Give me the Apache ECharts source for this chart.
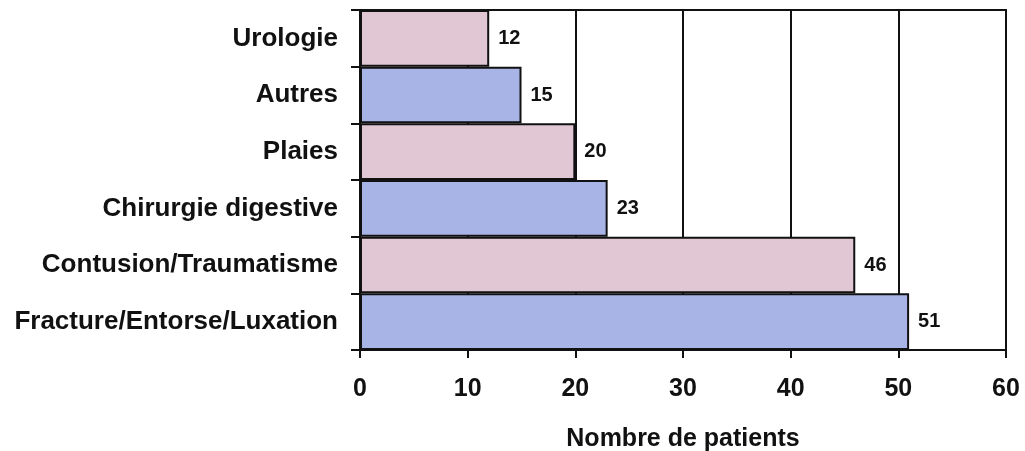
<!DOCTYPE html>
<html>
<head>
<meta charset="utf-8">
<script src="https://cdn.jsdelivr.net/npm/echarts@6/dist/echarts.min.js"></script>
<style>
  html, body { margin: 0; padding: 0; background: #fff; }
  #chart { width: 1025px; height: 451px; }
</style>
</head>
<body>
<div id="chart"></div>
<script>
// categories listed bottom -> top
const categories = ['Fracture/Entorse/Luxation', 'Contusion/Traumatisme', 'Chirurgie digestive', 'Plaies', 'Autres', 'Urologie']
const patients = [51, 46, 23, 20, 15, 12]
const barColors = ['#a9b4e6', '#e1c7d3']

const chart = echarts.init(document.getElementById('chart'))

const fontFamily = '"Liberation Sans", Arial, sans-serif'

chart.setOption({
  backgroundColor: '#fff',
  animation: false,
  grid: {
    left: 360, right: 19, top: 10, bottom: 101,
    outerBoundsMode: 'none',
    show: true, borderColor: '#111', borderWidth: 2, backgroundColor: 'transparent'
  },
  xAxis: {
    type: 'value',
    min: 0,
    max: 60,
    interval: 10,
    name: 'Nombre de patients',
    nameLocation: 'middle',
    nameGap: 77,
    nameTextStyle: { fontSize: 25, fontWeight: 'bold', color: '#111', fontFamily },
    axisLine: { show: true, lineStyle: { color: '#111', width: 2 } },
    axisTick: { show: true, length: 8, lineStyle: { color: '#111', width: 2 } },
    axisLabel: { fontSize: 25, fontWeight: 'bold', color: '#111', margin: 27, fontFamily },
    splitLine: { show: true, lineStyle: { color: '#111', width: 2 } }
  },
  yAxis: {
    type: 'category',
    data: categories,
    axisLine: { show: true, lineStyle: { color: '#111', width: 2 } },
    axisTick: { show: true, length: 9, lineStyle: { color: '#111', width: 2 } },
    axisLabel: { fontSize: 26, fontWeight: 'bold', color: '#111', margin: 22, fontFamily }
  },
  series: [{
    type: 'bar',
    barCategoryGap: 0,
    data: patients.map((v, i) => ({
      value: v,
      itemStyle: { color: barColors[i % 2] }
    })),
    itemStyle: { borderColor: '#111', borderWidth: 2 },
    label: {
      show: true,
      position: 'right',
      distance: 9,
      fontSize: 20,
      fontWeight: 'bold',
      color: '#111',
      fontFamily
    }
  }]
})
</script>
</body>
</html>
